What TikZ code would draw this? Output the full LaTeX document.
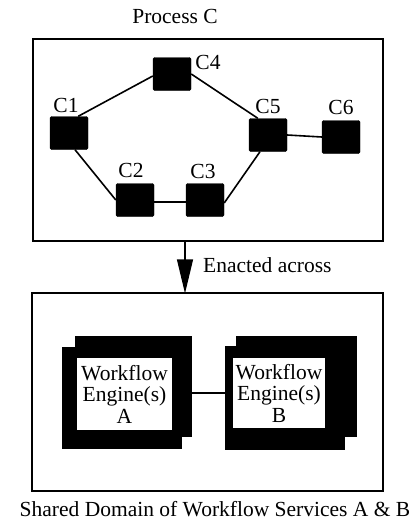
\documentclass[tikz,border=0pt]{standalone}
\usepackage{fontspec}
\setmainfont{Liberation Serif}
\usetikzlibrary{arrows.meta,backgrounds,calc}
\begin{document}
\begin{tikzpicture}[x=1pt,y=-1pt,
 comp/.style={draw=black,fill=black,minimum width=38pt,minimum height=33pt,inner sep=0pt,rounded corners=1.5pt},
 lab/.style={font=\fontsize{21.5}{22}\selectfont,inner sep=0pt},
 frame/.style={draw=black,line width=1.2pt,inner sep=0pt},
 link/.style={line width=1.6pt},
 slab/.style={fill=black,draw=none,inner sep=0pt},
 screen/.style={fill=white,draw=none,inner sep=0pt,align=center,font=\fontsize{21.5}{21.5}\selectfont}
]
\useasboundingbox (0,0) rectangle (415,530);

% Process C
\node[lab] (ptitle) at (175,16) {Process C};
\node[frame,minimum width=350pt,minimum height=202pt] (procbox) at (208,140) {};

\node[comp] (C1) at (69,133) {};
\node[comp] (C2) at (135,200) {};
\node[comp] (C3) at (205,200) {};
\node[comp] (C4) at (172,74) {};
\node[comp] (C5) at (268,135) {};
\node[comp] (C6) at (341,137) {};

\node[lab] (L1) at (66,105) {C1};
\node[lab] (L2) at (131,170) {C2};
\node[lab] (L3) at (203,171) {C3};
\node[lab] (L4) at (208,62) {C4};
\node[lab] (L5) at (268,106) {C5};
\node[lab] (L6) at (341,107) {C6};

\draw[link] ([xshift=-10pt]C1.north east) -- ([yshift=-2pt]C4.west);
\draw[link] (C4.east) -- ([xshift=9pt]C5.north west);
\draw[link] ([xshift=6pt]C1.south) -- (C2.west);
\draw[link] ([yshift=-2pt]C2.east) -- ([yshift=-2pt]C3.west);
\draw[link] ([yshift=-3pt]C3.east) -- ([xshift=-8pt]C5.south);
\draw[link] (C5.east) -- (C6.west);

% arrow
\node[frame,minimum width=351pt,minimum height=198pt] (domain) at (207.5,392) {};
\coordinate (ax) at (185,0);
\draw[line width=1.2pt,-{Triangle[length=34pt,width=16pt]}] (procbox.south -| ax) -- ([yshift=-1pt]domain.north -| ax);
\node[lab,anchor=west] (enact) at (203,265) {Enacted across};

% Engine A
\node[slab,minimum width=117pt,minimum height=101pt] (Aback) at (133.5,386.5) {};
\node[slab,minimum width=120pt,minimum height=102pt] (Afront) at (122,398) {};
\node[screen,minimum width=95pt,minimum height=72pt] (Ascreen) at (124.5,394) {Workflow\\Engine(s)\\A};

% Engine B
\node[slab,minimum width=121pt,minimum height=101pt] (Bback) at (296.5,386.5) {};
\node[slab,minimum width=120pt,minimum height=104pt] (Bfront) at (285,398) {};
\node[screen,minimum width=92pt,minimum height=70pt] (Bscreen) at (279,393) {Workflow\\Engine(s)\\B};

\coordinate (my) at (0,393);
\draw[line width=1.2pt] (Aback.east |- my) -- (Bfront.west |- my);

\node[lab] (dtitle) at (215,509) {Shared Domain of Workflow Services A \& B};
\end{tikzpicture}
\end{document}
